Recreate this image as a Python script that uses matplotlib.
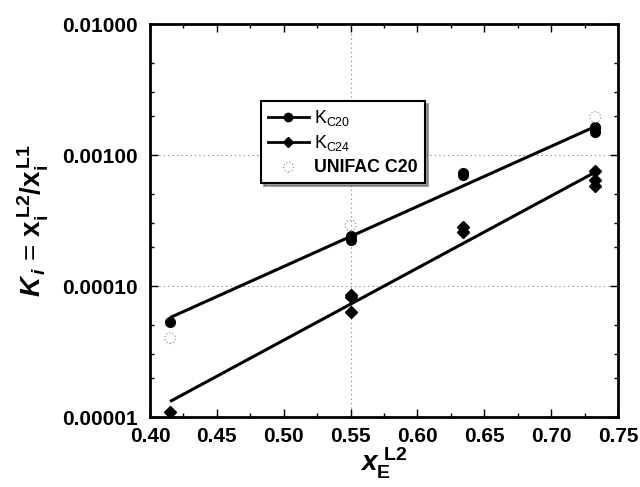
import matplotlib
matplotlib.use("Agg")
import matplotlib.pyplot as plt
import numpy as np
from matplotlib.ticker import FixedLocator, NullFormatter, MultipleLocator, FixedFormatter

plt.rcParams['font.family'] = ['Liberation Sans', 'DejaVu Sans']
plt.rcParams['mathtext.fontset'] = 'custom'
plt.rcParams['mathtext.rm'] = 'Liberation Sans:bold'
plt.rcParams['mathtext.it'] = 'Liberation Sans:bold:italic'
plt.rcParams['mathtext.bf'] = 'Liberation Sans:bold'
plt.rcParams['mathtext.sf'] = 'Liberation Sans'

# Data
c20_x = [0.415, 0.55, 0.55, 0.634, 0.634, 0.733, 0.733, 0.733]
c20_y = [5.3e-5, 2.25e-4, 2.4e-4, 7.0e-4, 7.3e-4, 1.5e-3, 1.6e-3, 1.65e-3]
c24_x = [0.415, 0.55, 0.55, 0.55, 0.634, 0.634, 0.733, 0.733, 0.733]
c24_y = [1.1e-5, 8.2e-5, 8.6e-5, 6.3e-5, 2.6e-4, 2.8e-4, 7.5e-4, 6.5e-4, 5.8e-4]
unifac_x = [0.415, 0.55, 0.733]
unifac_y = [4.0e-5, 2.9e-4, 1.95e-3]
fit20_x = [0.416, 0.733]
fit20_y = [5.8e-5, 1.65e-3]
fit24_x = [0.416, 0.733]
fit24_y = [1.33e-5, 7.4e-4]
yticks = [1e-5, 1e-4, 1e-3, 1e-2]
ytick_labels = ['0.00001', '0.00010', '0.00100', '0.01000']
xticks = [0.40, 0.45, 0.50, 0.55, 0.60, 0.65, 0.70, 0.75]

fig = plt.figure(figsize=(6.4, 4.87), dpi=100)
ax = fig.add_axes([150/640, 1-417/487, 468/640, 393/487])
ax.set_yscale('log')
ax.set_xlim(0.40, 0.75)
ax.set_ylim(1e-5, 1e-2)

# grid lines (dotted)
ax.axvline(0.55, color='#777777', lw=0.8, ls=(0, (1, 3)), zorder=0)
for yv in [1e-4, 1e-3]:
    ax.axhline(yv, color='#777777', lw=0.8, ls=(0, (1, 3)), zorder=0)

ax.plot(fit20_x, fit20_y, color='black', lw=2.2, zorder=2)
ax.plot(fit24_x, fit24_y, color='black', lw=2.2, zorder=2)
ax.plot(c20_x, c20_y, 'o', color='black', ms=7, ls='none', zorder=3)
ax.plot(c24_x, c24_y, 'D', color='black', ms=6, ls='none', zorder=3)
ax.scatter(unifac_x, unifac_y, s=60, facecolors='none', edgecolors='#999999',
           linewidths=0.9, linestyles=':', zorder=3)

# legend (proxy handles)
h1, = ax.plot([], [], '-o', color='black', lw=2, ms=6)
h2, = ax.plot([], [], '-D', color='black', lw=2, ms=5)
h3 = ax.scatter([], [], s=50, facecolors='none', edgecolors='#999999',
                linewidths=0.9, linestyles=':')
leg = ax.legend([h1, h2, h3], [r'K$_{\mathsf{C20}}$', r'K$_{\mathsf{C24}}$', 'UNIFAC C20'],
                loc='upper left', bbox_to_anchor=(102/468, (417-92)/393),
                frameon=True, fancybox=False, shadow=True, edgecolor='black',
                framealpha=1, borderpad=0.4, handlelength=2.3, handletextpad=0.3,
                labelspacing=0.3, fontsize=12.8)
leg.get_frame().set_linewidth(1.5)
texts = leg.get_texts()
texts[2].set_fontweight('bold')

ax.yaxis.set_major_locator(FixedLocator(yticks))
ax.yaxis.set_major_formatter(FixedFormatter(ytick_labels))
ax.yaxis.set_minor_locator(FixedLocator([m * 10.0**e for e in range(-5, -2) for m in [2, 3, 5]]))
ax.yaxis.set_minor_formatter(NullFormatter())
ax.xaxis.set_major_locator(FixedLocator(xticks))
ax.xaxis.set_minor_locator(MultipleLocator(0.025))
ax.set_xticklabels(['%.2f' % v for v in xticks])

ax.tick_params(which='both', direction='in', top=True, right=True, labelsize=15, width=1)
ax.tick_params(which='major', length=6)
ax.tick_params(which='minor', length=3)
ax.tick_params(axis='y', pad=9)
ax.tick_params(axis='x', pad=7)
for lab in ax.get_xticklabels() + ax.get_yticklabels():
    lab.set_fontweight('bold')
for sp in ax.spines.values():
    sp.set_linewidth(2)

ax.set_xlabel(r'$x_{\mathrm{E}}^{\ \mathrm{L2}}$', fontsize=20, labelpad=0)
ax.set_ylabel(r'$K_{\,i}$ = $\mathrm{x_i^{\,L2}/x_i^{\,L1}}$', fontsize=20, labelpad=8)

fig.savefig('out.png', dpi=100)
